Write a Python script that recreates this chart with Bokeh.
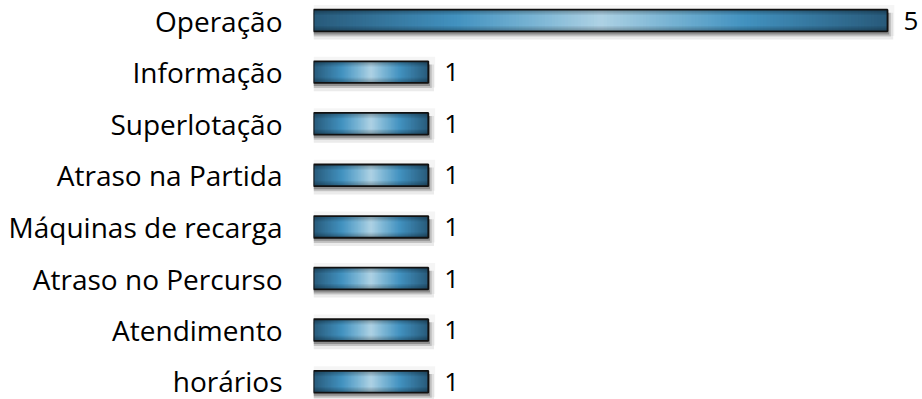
import numpy as np
from bokeh.plotting import figure
from bokeh.models import Range1d, FixedTicker, ColumnDataSource
from bokeh.core.properties import value as pval
from bokeh.embed import file_html
from bokeh.resources import INLINE

categories = ["Operação", "Informação", "Superlotação", "Atraso na Partida",
              "Máquinas de recarga", "Atraso no Percurso", "Atendimento", "horários"]
values = [5, 1, 1, 1, 1, 1, 1, 1]

FONT = "Open Sans"
FSIZE = "28px"
VSIZE = "26px"
BAR_H = 0.42
N_SEG_PER_UNIT = 80
ypos = list(range(len(categories)))

p = figure(width=922, height=399, output_backend="svg", toolbar_location=None,
           x_range=Range1d(0, 5.305), y_range=Range1d(7.345, -0.388),
           x_axis_location=None, min_border_left=313, min_border_right=0,
           min_border_top=0, min_border_bottom=0)
p.outline_line_color = None
p.grid.visible = False
p.background_fill_color = "white"
p.border_fill_color = "white"

# shadows
for dy, grow, dx, col, a in [(0.0, 0.18, 0.06, "#000000", 0.04),
                              (0.11, 0.10, 0.05, "#000000", 0.08),
                              (0.08, 0.04, 0.03, "#000000", 0.15),
                              (0.06, 0.0, 0.015, "#333333", 0.35)]:
    p.hbar(y=[y + dy for y in ypos], height=BAR_H + grow,
           left=[0 - dx * 0.3 for _ in values], right=[v + dx for v in values],
           fill_color=col, fill_alpha=a, line_color=None)

# gradient along x
stops_d = np.array([0.0, 0.2, 0.5, 1.0])
stops_c = np.array([[174, 210, 228], [128, 184, 214], [66, 146, 192], [40, 90, 122]])

def grad_color(d):
    r = np.interp(d, stops_d, stops_c[:, 0])
    g = np.interp(d, stops_d, stops_c[:, 1])
    b = np.interp(d, stops_d, stops_c[:, 2])
    return "#%02x%02x%02x" % (int(round(r)), int(round(g)), int(round(b)))

ys, ls, rs, cs = [], [], [], []
for y, v in zip(ypos, values):
    n = int(N_SEG_PER_UNIT * (1 + 0.3 * (v - 1)))
    for k in range(n):
        t = (k + 0.5) / n
        d = abs(t - 0.5) * 2
        ys.append(y)
        ls.append(v * k / n)
        rs.append(min(v, v * (k + 3) / n))
        cs.append(grad_color(d))
p.hbar(source=ColumnDataSource(dict(y=ys, left=ls, right=rs, c=cs)),
       y="y", left="left", right="right", height=BAR_H, fill_color="c", line_color=None)

# darken top and bottom edges with stacked translucent bands
ys3, hs3, rs3 = [], [], []
for y, v in zip(ypos, values):
    for j in range(5):
        h = BAR_H * (0.5 - j * 0.08)
        for sgn in (-1, 1):
            ys3.append(y + sgn * (BAR_H / 2 - h / 4))
            hs3.append(h * 0.5)
            rs3.append(v)
p.hbar(source=ColumnDataSource(dict(y=ys3, h=hs3, right=rs3)),
       y="y", height="h", left=0, right="right", fill_color="black",
       fill_alpha=0.05, line_color=None)

# outline
p.hbar(y=ypos, height=BAR_H, left=0, right=values, fill_color=None,
       line_color="#111111", line_width=1.8)

# value labels
p.text(x=values, y=ypos, text=[str(v) for v in values], x_offset=16,
       text_baseline="middle", text_align="left", text_font_size=VSIZE,
       text_font=pval(FONT), text_color="#000000")

ax = p.yaxis[0]
ax.ticker = FixedTicker(ticks=ypos)
ax.major_label_overrides = {i: c for i, c in zip(ypos, categories)}
ax.axis_line_color = None
ax.major_tick_line_color = None
ax.minor_tick_line_color = None
ax.major_tick_out = 0
ax.major_tick_in = 0
ax.major_label_standoff = 31
ax.major_label_text_font = FONT
ax.major_label_text_font_size = FSIZE
ax.major_label_text_color = "#000000"

open("out.html", "w").write(file_html(p, INLINE))
